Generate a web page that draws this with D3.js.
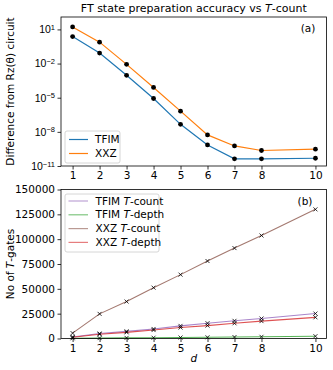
<!DOCTYPE html>
<meta charset="utf-8">
<head>
<script src="https://d3js.org/d3.v7.min.js"></script>
<style>
body { margin: 0; background: #fff; }
svg { font-family: "DejaVu Sans", sans-serif; }
</style>
</head>
<body>
<script>
    // data
    var dVals = [1, 2, 3, 4, 5, 6, 7, 8, 10]
    // panel (a): log10 of the difference
    var tfimDiffLog = [0.37, -1.08, -3.03, -5.07, -7.34, -9.15, -10.37, -10.37, -10.32]
    var xxzDiffLog = [1.22, -0.12, -2.07, -4.1, -6.18, -8.27, -9.24, -9.64, -9.52]
    var logTicks = [1, -2, -5, -8, -11]
    // panel (b)
    var tfimTCount = [1500, 5000, 7200, 9600, 12700, 15400, 17800, 20100, 25100]
    var tfimTDepth = [250, 400, 600, 800, 1000, 1200, 1450, 1700, 2300]
    var xxzTCount = [5400, 24800, 37200, 51200, 64300, 78000, 91000, 103700, 130000]
    var xxzTDepth = [1200, 4300, 6200, 8500, 11000, 13000, 15300, 17500, 21300]
    var countTicks = [0, 25000, 50000, 75000, 100000, 125000, 150000]

    var width = 333, height = 370
    var left = 61, right = 326.5
    var topA = 17, botA = 166
    var topB = 189.5, botB = 338.5

    var svg = d3.select("body").append("svg")
      .attr("width", width)
      .attr("height", height)

    var x = d3.scaleLinear().domain([0.57, 10.41]).range([left, right])
    var yA = d3.scaleLinear().domain([-11, 2.09]).range([botA, topA])
    var yB = d3.scaleLinear().domain([0, 150000]).range([botB, topB])

    function frame(t, b) {
      svg.append("rect")
        .attr("x", left).attr("y", t)
        .attr("width", right - left).attr("height", b - t)
        .attr("fill", "none").attr("stroke", "#000").attr("stroke-width", 0.8)
    }

    function xAxis(b) {
      var g = svg.append("g")
        .attr("transform", `translate(0,${b})`)
        .call(d3.axisBottom(x).tickValues(dVals).tickSize(3.5).tickPadding(2.5).tickFormat(d3.format("d")))
      g.select(".domain").remove()
      g.selectAll("line").attr("stroke-width", 0.8)
      g.selectAll("text").attr("font-size", 10.5).attr("fill", "#000").attr("font-family", "DejaVu Sans")
    }

    // ---------- panel (a)
    var colA = {tfim: "#1f77b4", xxz: "#ff7f0e"}
    var lineA = d3.line().x((d, i) => x(dVals[i])).y(d => yA(d))

    var ga = svg.append("g")
      .attr("transform", `translate(${left},0)`)
      .call(d3.axisLeft(yA).tickValues(logTicks).tickSize(3.5).tickPadding(2.5).tickFormat(""))
    ga.select(".domain").remove()
    ga.selectAll("line").attr("stroke-width", 0.8)
    ga.selectAll(".tick").each(function(d) {
      var t = d3.select(this).append("text")
        .attr("x", -6).attr("dy", "0.32em")
        .attr("text-anchor", "end")
        .attr("fill", "#000")
        .attr("font-size", 10.5)
      t.append("tspan").text("10")
      t.append("tspan").attr("dy", "-0.45em").attr("font-size", 7.5).text(d < 0 ? "\u2212" + (-d) : d)
    })

    xAxis(botA)

    ;[["tfim", tfimDiffLog], ["xxz", xxzDiffLog]].forEach(function(s) {
      svg.append("path")
        .attr("d", lineA(s[1]))
        .attr("fill", "none")
        .attr("stroke", colA[s[0]])
        .attr("stroke-width", 1.2)
      svg.append("g").selectAll("circle").data(s[1]).join("circle")
        .attr("cx", (d, i) => x(dVals[i]))
        .attr("cy", d => yA(d))
        .attr("r", 2.4)
        .attr("fill", "#000")
    })
    frame(topA, botA)

    svg.append("text")
      .attr("x", 308).attr("y", 32)
      .attr("text-anchor", "middle")
      .attr("font-size", 10.5)
      .text("(a)")

    // legend (a)
    var legA = svg.append("g")
    legA.append("rect")
      .attr("x", 65).attr("y", 131).attr("width", 55).attr("height", 32)
      .attr("rx", 2).attr("fill", "#fff").attr("fill-opacity", 0.8)
      .attr("stroke", "#ccc").attr("stroke-width", 0.8)
    ;[["TFIM", colA.tfim, 139.5], ["XXZ", colA.xxz, 153.5]].forEach(function(l) {
      legA.append("line").attr("x1", 69).attr("x2", 88).attr("y1", l[2]).attr("y2", l[2])
        .attr("stroke", l[1]).attr("stroke-width", 1.2)
      legA.append("text").attr("x", 95).attr("y", l[2]).attr("dy", "0.35em")
        .attr("font-size", 10.5).text(l[0])
    })

    // title and y label (a)
    var title = svg.append("text")
      .attr("x", (left + right) / 2).attr("y", 12)
      .attr("text-anchor", "middle")
      .attr("font-size", 11)
    title.append("tspan").text("FT state preparation accuracy vs ")
    title.append("tspan").attr("font-style", "italic").text("T")
    title.append("tspan").text("-count")

    svg.append("text")
      .attr("transform", `translate(14,${(topA + botA) / 2}) rotate(-90)`)
      .attr("text-anchor", "middle")
      .attr("font-size", 10.5)
      .text("Difference from Rz(\u03b8) circuit")

    // ---------- panel (b)
    var gb = svg.append("g")
      .attr("transform", `translate(${left},0)`)
      .call(d3.axisLeft(yB).tickValues(countTicks).tickSize(3.5).tickPadding(2.5).tickFormat(d3.format("d")))
    gb.select(".domain").remove()
    gb.selectAll("line").attr("stroke-width", 0.8)
    gb.selectAll("text").attr("font-size", 10.5).attr("fill", "#000").attr("font-family", "DejaVu Sans")

    xAxis(botB)

    var seriesB = [
      {name: "TFIM", kind: "count", vals: tfimTCount, color: "#9467bd"},
      {name: "TFIM", kind: "depth", vals: tfimTDepth, color: "#2ca02c"},
      {name: "XXZ", kind: "count", vals: xxzTCount, color: "#8c564b"},
      {name: "XXZ", kind: "depth", vals: xxzTDepth, color: "#d62728"}
    ]
    var lineB = d3.line().x((d, i) => x(dVals[i])).y(d => yB(d))
    seriesB.forEach(function(s) {
      svg.append("path")
        .attr("d", lineB(s.vals))
        .attr("fill", "none")
        .attr("stroke", s.color)
        .attr("stroke-opacity", 0.8)
        .attr("stroke-width", 1.1)
    })
    seriesB.forEach(function(s) {
      svg.append("g").selectAll("path").data(s.vals).join("path")
        .attr("transform", (d, i) => `translate(${x(dVals[i])},${yB(d)})`)
        .attr("d", "M-2,-2L2,2M-2,2L2,-2")
        .attr("stroke", "#000")
        .attr("stroke-width", 0.8)
    })
    frame(topB, botB)

    svg.append("text")
      .attr("x", 305).attr("y", 204.5)
      .attr("text-anchor", "middle")
      .attr("font-size", 10.5)
      .text("(b)")

    // legend (b)
    var legB = svg.append("g")
    legB.append("rect")
      .attr("x", 65).attr("y", 194).attr("width", 94).attr("height", 58)
      .attr("rx", 2).attr("fill", "#fff").attr("fill-opacity", 0.8)
      .attr("stroke", "#ccc").attr("stroke-width", 0.8)
    seriesB.forEach(function(s, i) {
      var ly = 201 + i * 13.8
      legB.append("line").attr("x1", 68.5).attr("x2", 88).attr("y1", ly).attr("y2", ly)
        .attr("stroke", s.color).attr("stroke-opacity", 0.6).attr("stroke-width", 1.2)
      var t = legB.append("text").attr("x", 95.5).attr("y", ly).attr("dy", "0.35em")
        .attr("font-size", 10.5)
      t.append("tspan").text(s.name + " ")
      t.append("tspan").attr("font-style", "italic").text("T")
      t.append("tspan").text("-" + s.kind)
    })

    var ylb = svg.append("text")
      .attr("transform", `translate(14,${(topB + botB) / 2}) rotate(-90)`)
      .attr("text-anchor", "middle")
      .attr("font-size", 10.5)
    ylb.append("tspan").text("No of ")
    ylb.append("tspan").attr("font-style", "italic").text("T")
    ylb.append("tspan").text("-gates")

    svg.append("text")
      .attr("x", (left + right) / 2).attr("y", 362)
      .attr("text-anchor", "middle")
      .attr("font-size", 10.5)
      .attr("font-style", "italic")
      .text("d")
</script>
</body>
